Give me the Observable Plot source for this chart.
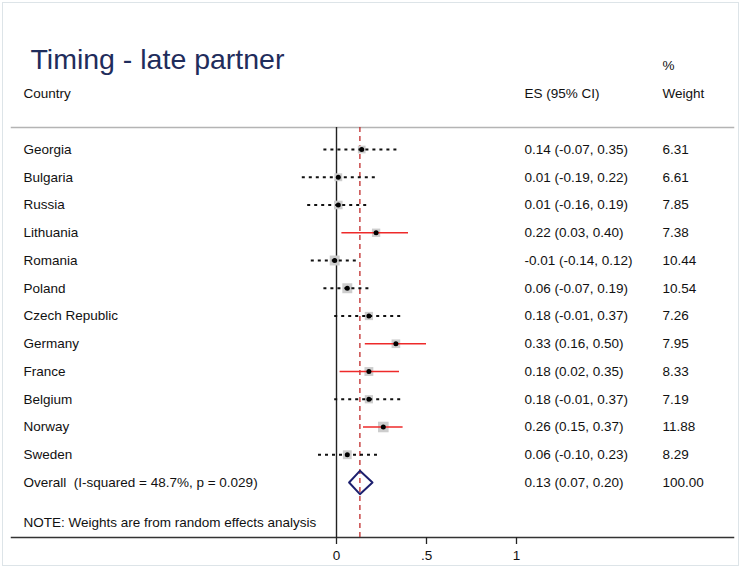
<!DOCTYPE html>
<html>
<head>
<meta charset="utf-8">
<script src="https://cdn.jsdelivr.net/npm/d3@7"></script>
<script src="https://cdn.jsdelivr.net/npm/@observablehq/plot@0.6"></script>
<style>
  html, body { margin: 0; padding: 0; background: #fff; }
  #wrap { position: relative; width: 742px; height: 571px; }
  #border { position: absolute; left: 2px; top: 2px; width: 735px; height: 562px; border: 1px solid #dde4e8; pointer-events: none; }
  #chart { position: absolute; left: 0; top: 0; }
</style>
</head>
<body>
<div id="wrap"><div id="chart"></div><div id="border"></div></div>
<script>
const title = "Timing - late partner";
const countries = ["Georgia","Bulgaria","Russia","Lithuania","Romania","Poland","Czech Republic","Germany","France","Belgium","Norway","Sweden"];
const es     = [0.14, 0.01, 0.01, 0.22, -0.01, 0.06, 0.18, 0.33, 0.18, 0.18, 0.26, 0.06];
const lo     = [-0.07, -0.19, -0.16, 0.03, -0.14, -0.07, -0.01, 0.16, 0.02, -0.01, 0.15, -0.10];
const hi     = [0.35, 0.22, 0.19, 0.40, 0.12, 0.19, 0.37, 0.50, 0.35, 0.37, 0.37, 0.23];
const weight = [6.31, 6.61, 7.85, 7.38, 10.44, 10.54, 7.26, 7.95, 8.33, 7.19, 11.88, 8.29];
const overallLabel = "Overall\u00a0 (I-squared = 48.7%, p = 0.029)";
const overallES = 0.13, overallLo = 0.07, overallHi = 0.20, overallWeight = 100.00;
const note = "NOTE: Weights are from random effects analysis";
const xTicks = [0, 0.5, 1];
const xTickLabels = ["0", ".5", "1"];

const rows = countries.map((c, i) => ({i, label: c, es: es[i], lo: lo[i], hi: hi[i], w: weight[i], sig: lo[i] > 0 || hi[i] < 0}));
const oIdx = rows.length;
const table = [...rows, {i: oIdx, label: overallLabel, es: overallES, lo: overallLo, hi: overallHi, w: overallWeight}];
const fmt = v => v.toFixed(2);
const dh = 0.42;
const diamond = [
  {x: overallLo, y: oIdx}, {x: overallES, y: oIdx - dh},
  {x: overallHi, y: oIdx}, {x: overallES, y: oIdx + dh}
];

const font = "'Liberation Sans', Arial, Helvetica, sans-serif";
const fs = 13.5;

const chart = Plot.plot({
  width: 742,
  height: 571,
  marginTop: 127,
  marginBottom: 34,
  marginLeft: 11,
  marginRight: 9,
  style: {fontFamily: font, fontSize: fs + "px", background: "white", color: "#111"},
  x: {domain: [0, 1], range: [336, 516]},
  y: {domain: [0, oIdx], range: [149, 482], axis: null},
  r: {type: "sqrt", domain: [0, 12], range: [0, 6]},
  marks: [
    Plot.frame({anchor: "top", stroke: "#b4b4b4", strokeWidth: 1.5}),
    Plot.frame({anchor: "bottom", stroke: "#333", strokeWidth: 1.5}),
    Plot.axisX({ticks: xTicks, tickFormat: d => xTickLabels[xTicks.indexOf(d)], tickSize: 7, tickPadding: 6, fontSize: fs, label: null, stroke: "#222", strokeWidth: 1.3}),
    Plot.ruleX([0], {stroke: "#222", strokeWidth: 1.4}),
    Plot.ruleX([overallES], {stroke: "#c02a2a", strokeWidth: 1.3, strokeDasharray: "5,4"}),
    Plot.dot(rows, {x: "es", y: "i", r: "w", symbol: "square", fill: "#cdcdcd", stroke: "none"}),
    Plot.ruleY(rows.filter(d => !d.sig), {y: "i", x1: "lo", x2: "hi", stroke: "#111", strokeWidth: 2, strokeDasharray: "3,4"}),
    Plot.ruleY(rows.filter(d => d.sig), {y: "i", x1: "lo", x2: "hi", stroke: "#ee2a2a", strokeWidth: 1.6}),
    Plot.dot(rows, {x: "es", y: "i", r: 2.5, fill: "#000", stroke: "none"}),
    Plot.line(diamond, {x: "x", y: "y", curve: "linear-closed", stroke: "#1c1f6e", strokeWidth: 2, fill: "none"}),
    Plot.text(table, {y: "i", text: "label", frameAnchor: "left", dx: 12, textAnchor: "start", fill: "#111"}),
    Plot.text(table, {y: "i", text: d => `${fmt(d.es)} (${fmt(d.lo)}, ${fmt(d.hi)})`, frameAnchor: "left", dx: 513, textAnchor: "start", fill: "#111"}),
    Plot.text(table, {y: "i", text: d => fmt(d.w), frameAnchor: "left", dx: 651, textAnchor: "start", fill: "#111"}),
    Plot.text([note], {frameAnchor: "bottom-left", lineAnchor: "middle", dx: 12, dy: -15, textAnchor: "start", fill: "#111"}),
    Plot.text(["Country"], {frameAnchor: "top-left", lineAnchor: "middle", dx: 12, dy: -34, textAnchor: "start", fill: "#111"}),
    Plot.text(["ES (95% CI)"], {frameAnchor: "top-left", lineAnchor: "middle", dx: 513, dy: -34, textAnchor: "start", fill: "#111"}),
    Plot.text(["Weight"], {frameAnchor: "top-left", lineAnchor: "middle", dx: 651, dy: -34, textAnchor: "start", fill: "#111"}),
    Plot.text(["%"], {frameAnchor: "top-left", lineAnchor: "middle", dx: 651, dy: -62, textAnchor: "start", fill: "#111"}),
    Plot.text([title], {frameAnchor: "top-left", lineAnchor: "bottom", dx: 19, dy: -59, textAnchor: "start", fontSize: 28.5, fill: "#1f2d5c"})
  ]
});
document.getElementById("chart").appendChild(chart);
</script>
</body>
</html>
